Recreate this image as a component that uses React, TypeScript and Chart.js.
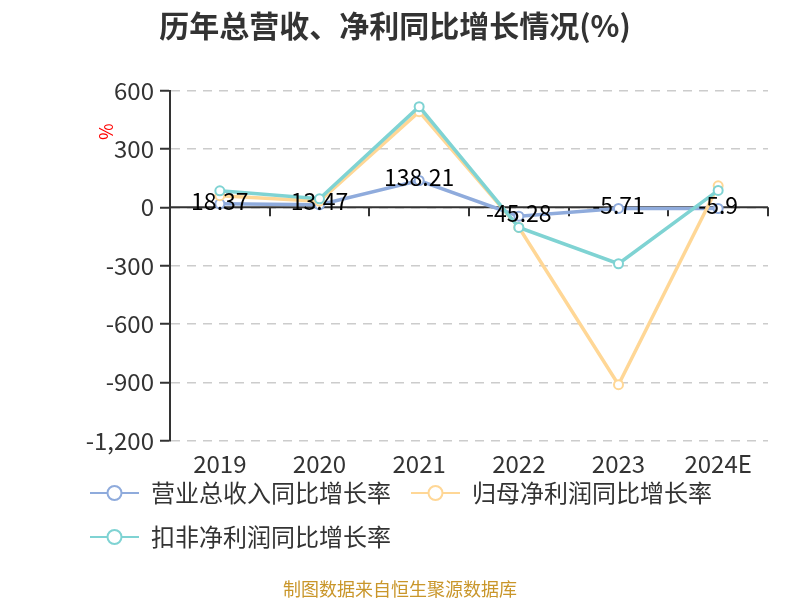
import { useEffect, useRef } from "react";
import { Chart, registerables } from "chart.js";

Chart.register(...registerables);

const FONT = "'Noto Sans CJK SC', 'Noto Sans', sans-serif";

const years = ["2019", "2020", "2021", "2022", "2023", "2024E"];
const revenueGrowth = [18.37, 13.47, 138.21, -45.28, -5.71, -5.9];
const netProfitGrowth = [60, 32, 492, -103, -912, 111];
const deductedProfitGrowth = [85, 44, 518, -103, -290, 87];
const seriesNames = ["营业总收入同比增长率", "归母净利润同比增长率", "扣非净利润同比增长率"];
const seriesColors = ["#8fabdc", "#ffd796", "#7fd3d3"];

// line + hollow circle, like the legend icons of the original
function makeIcon(color: string) {
  const c = document.createElement("canvas");
  c.width = 49;
  c.height = 24;
  const ctx = c.getContext("2d")!;
  ctx.strokeStyle = color;
  ctx.lineWidth = 2;
  ctx.beginPath();
  ctx.moveTo(0, 12);
  ctx.lineTo(49, 12);
  ctx.stroke();
  ctx.beginPath();
  ctx.arc(24.5, 12, 7, 0, Math.PI * 2);
  ctx.fillStyle = "#fff";
  ctx.fill();
  ctx.stroke();
  return c;
}

// x axis line sits on zero, its labels stay under the plot
const zeroAxis = {
  id: "zeroAxis",
  beforeDatasetsDraw(chart: any) {
    const { ctx, chartArea, scales } = chart;
    const y0 = scales.y.getPixelForValue(0);
    const band = scales.x.getPixelForValue(1) - scales.x.getPixelForValue(0);
    ctx.save();
    ctx.strokeStyle = "#333";
    ctx.lineWidth = 2;
    ctx.beginPath();
    ctx.moveTo(chartArea.left, y0);
    ctx.lineTo(chartArea.right, y0);
    for (let i = 0; i <= years.length; i++) {
      const x = Math.round(scales.x.getPixelForValue(i) - band / 2);
      ctx.moveTo(x, y0);
      ctx.lineTo(x, y0 + 9);
    }
    ctx.stroke();

    ctx.font = `24px ${FONT}`;
    ctx.fillStyle = "#333";
    ctx.textAlign = "center";
    ctx.textBaseline = "middle";
    years.forEach((label, i) => {
      ctx.fillText(label, scales.x.getPixelForValue(i), chartArea.bottom + 23);
    });
    ctx.restore();
  },
};

const extras = {
  id: "extras",
  afterDatasetsDraw(chart: any) {
    const { ctx, chartArea } = chart;
    const meta = chart.getDatasetMeta(0);
    ctx.save();
    ctx.font = `23px ${FONT}`;
    ctx.fillStyle = "#000";
    ctx.textAlign = "center";
    ctx.textBaseline = "middle";
    meta.data.forEach((pt: any, i: number) => {
      ctx.fillText(String(revenueGrowth[i]), pt.x, pt.y - 3);
    });
    // unit label of the y axis
    ctx.translate(chartArea.left - 64, chartArea.top + 41);
    ctx.rotate(-Math.PI / 2);
    ctx.font = `18px ${FONT}`;
    ctx.fillStyle = "#ff0000";
    ctx.fillText("%", 0, 0);
    ctx.restore();
  },
};

export default function App() {
  const canvasRef = useRef<HTMLCanvasElement>(null);

  useEffect(() => {
    if (!canvasRef.current) return;
    const icons = seriesColors.map(makeIcon);
    const values = [revenueGrowth, netProfitGrowth, deductedProfitGrowth];

    const chart = new Chart(canvasRef.current, {
      type: "line",
      data: {
        labels: years,
        datasets: values.map((data, i) => ({
          label: seriesNames[i],
          data,
          borderColor: seriesColors[i],
          backgroundColor: "#fff",
          borderWidth: 3.5,
          pointRadius: 4.5,
          pointBorderWidth: 2,
          pointBackgroundColor: "#fff",
          pointBorderColor: seriesColors[i],
          tension: 0,
          order: 2 - i,
        })),
      },
      options: {
        responsive: true,
        maintainAspectRatio: false,
        animation: false,
        layout: { padding: { left: 70, right: 32, top: 90.7, bottom: 41 } },
        scales: {
          x: {
            offset: true,
            grid: { display: false, drawTicks: false },
            border: { display: false },
            ticks: { display: false },
            afterFit: (s: any) => {
              s.height = 20.3;
            },
          },
          y: {
            min: -1200,
            max: 600,
            ticks: {
              stepSize: 300,
              color: "#333",
              padding: 6,
              font: { size: 24, family: FONT },
              callback: (v: any) => Number(v).toLocaleString("en-US"),
            },
            grid: {
              color: "#cccccc",
              lineWidth: 1.5,
              tickLength: 10,
              tickColor: "#333",
              tickWidth: 2,
              tickBorderDash: [],
            },
            border: { display: true, color: "#333", width: 2, dash: [9, 7] },
            afterFit: (s: any) => {
              s.width = 100;
            },
          },
        },
        plugins: {
          legend: {
            position: "bottom",
            align: "start",
            labels: {
              usePointStyle: true,
              pointStyleWidth: 49,
              boxHeight: 24,
              padding: 20,
              color: "#333",
              font: { size: 24, family: FONT },
              sort: (a: any, b: any) => a.datasetIndex - b.datasetIndex,
              generateLabels: (c: any) =>
                Chart.defaults.plugins.legend.labels
                  .generateLabels(c)
                  .map((item: any) => ({ ...item, pointStyle: icons[item.datasetIndex] })),
            },
          },
          tooltip: { enabled: false },
        },
      },
      plugins: [zeroAxis, extras],
    });

    return () => chart.destroy();
  }, []);

  return (
    <div style={{ position: "absolute", left: 0, top: 0, width: 800, height: 600, background: "#fff" }}>
      <canvas ref={canvasRef} />
      <div
        style={{
          position: "absolute",
          left: 0,
          top: 6,
          width: 790,
          textAlign: "center",
          font: `bold 30px/36px ${FONT}`,
          color: "#333",
        }}
      >
        历年总营收、净利同比增长情况(%)
      </div>
      <div
        style={{
          position: "absolute",
          left: 0,
          top: 577,
          width: 800,
          textAlign: "center",
          font: `18px/22px ${FONT}`,
          color: "#c9962a",
        }}
      >
        制图数据来自恒生聚源数据库
      </div>
    </div>
  );
}
